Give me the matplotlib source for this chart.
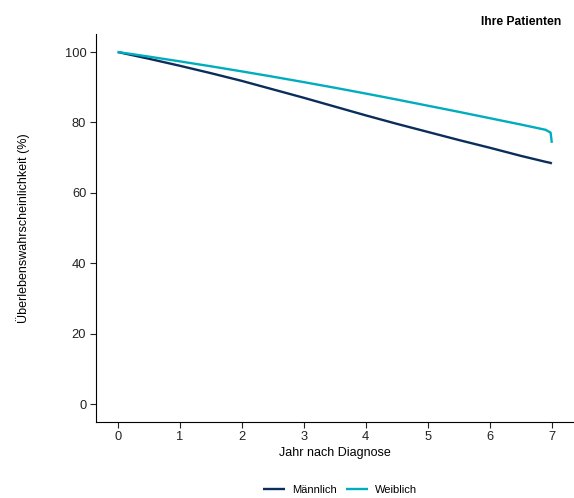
import matplotlib.pyplot as plt

plt.rcParams['font.family'] = ['Liberation Sans', 'DejaVu Sans']

# survival estimates (%) by years since diagnosis
years = [0, 0.5, 1, 1.5, 2, 2.5, 3, 3.5, 4, 4.5, 5, 5.5, 6, 6.5, 6.9, 6.98, 7.0]
male = [100, 98.1, 96.1, 94.0, 91.8, 89.4, 87.0, 84.5, 82.0, 79.6, 77.3,
        75.0, 72.8, 70.5, 68.8, 68.5, 68.3]
female = [100, 98.7, 97.35, 95.95, 94.5, 93.0, 91.45, 89.85, 88.2, 86.5, 84.75,
          83.0, 81.2, 79.4, 77.9, 77.1, 74.2]

labels = ['Männlich', 'Weiblich']
colors = ['#0a2d5c', '#00adbf']

fig = plt.figure(figsize=(5.74, 4.98), dpi=100)
ax = fig.add_axes([0.1672, 0.1534, 0.832, 0.7775])

for y, lab, col in zip([male, female], labels, colors):
    ax.plot(years, y, color=col, lw=1.7, label=lab, solid_capstyle='butt')

ax.set_xlim(-0.35, 7.35)
ax.set_ylim(-5, 105)
ax.set_xticks(range(8))
ax.set_yticks([0, 20, 40, 60, 80, 100])
ax.spines['top'].set_visible(False)
ax.spines['right'].set_visible(False)
for s in ['left', 'bottom']:
    ax.spines[s].set_linewidth(0.8)
ax.tick_params(direction='out', length=4, width=0.8, labelsize=9.3,
               colors='#222222', pad=3)

ax.set_xlabel('Jahr nach Diagnose', fontsize=9, labelpad=3)
ax.set_ylabel('Überlebenswahrscheinlichkeit (%)', fontsize=9, labelpad=25)

fig.text(0.977, 0.955, 'Ihre Patienten', ha='right', va='center',
         fontsize=8.7, fontweight='bold')

fig.legend(loc='center', bbox_to_anchor=(0.592, 0.016), ncol=2, frameon=False,
           fontsize=8, handlelength=2.0, columnspacing=0.8, handletextpad=0.6)

fig.savefig('out.png', dpi=100)
